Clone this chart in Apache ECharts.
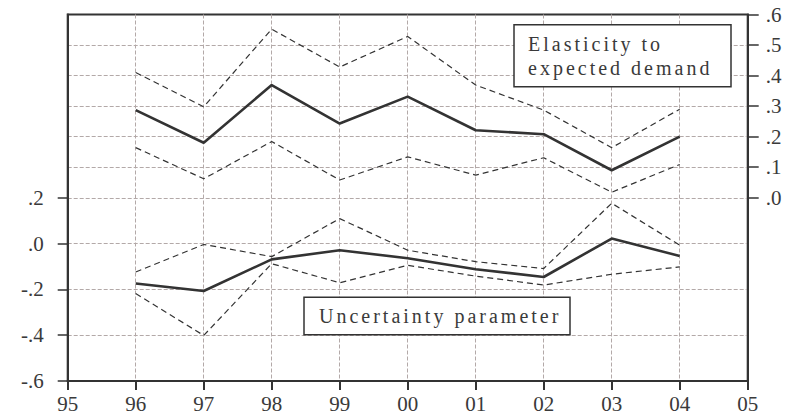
<!DOCTYPE html>
<html>
<head>
<meta charset="utf-8">
<script src="https://cdn.jsdelivr.net/npm/echarts@6/dist/echarts.min.js"></script>
<style>html,body{margin:0;padding:0;background:#fff;}#main{width:787px;height:419px;}</style>
</head>
<body>
<div id="main"></div>
<script>
// ---- data ----
const years = [1996, 1997, 1998, 1999, 2000, 2001, 2002, 2003, 2004];
// Elasticity to expected demand (right axis)
const elasticity      = [0.287, 0.180, 0.369, 0.243, 0.331, 0.221, 0.208, 0.090, 0.200];
const elasticityUpper = [0.410, 0.298, 0.552, 0.428, 0.528, 0.369, 0.287, 0.164, 0.290];
const elasticityLower = [0.164, 0.062, 0.184, 0.058, 0.134, 0.074, 0.131, 0.018, 0.109];
// Uncertainty parameter (left axis)
const uncertainty      = [-0.174, -0.207, -0.069, -0.029, -0.064, -0.112, -0.146, 0.022, -0.054];
const uncertaintyUpper = [-0.124, -0.004, -0.057, 0.109, -0.029, -0.079, -0.109, 0.176, -0.007];
const uncertaintyLower = [-0.218, -0.401, -0.088, -0.171, -0.095, -0.142, -0.181, -0.134, -0.102];
const leftTicks  = [-0.6, -0.4, -0.2, 0, 0.2];
const rightTicks = [0, 0.1, 0.2, 0.3, 0.4, 0.5, 0.6];
const legendLines = ['Elasticity to', 'expected demand', 'Uncertainty parameter'];

const pairs = arr => years.map((y, i) => [y, arr[i]]);
const dark = '#333333';
const gridC = '#b3a9a8';
const T = 'rgba(0,0,0,0)';
const font = 'Liberation Serif';
const fmtY = v => {
  const d = Math.round(Math.abs(v) * 10);
  return (v < -1e-9 ? '-' : '') + '.' + d;
};

const chart = echarts.init(document.getElementById('main'), null, {renderer: 'svg'});

const solid = {type: 'line', symbol: 'none', lineStyle: {color: dark, width: 2.6}, silent: true};
const dashed = {type: 'line', symbol: 'none', lineStyle: {color: dark, width: 1.2, type: [6, 4]}, silent: true};

chart.setOption({
  animation: false,
  backgroundColor: '#fff',
  grid: {left: 67.7, right: 39.3, top: 14.5, bottom: 38, show: true, borderColor: dark, borderWidth: 2, backgroundColor: 'transparent'},
  xAxis: {
    type: 'value', min: 1995, max: 2005, interval: 1,
    axisLine: {show: true, onZero: false, lineStyle: {color: dark, width: 2}},
    axisTick: {show: true, inside: false, length: 9, lineStyle: {color: dark, width: 2}},
    axisLabel: {color: '#3a3a3a', fontFamily: font, fontSize: 21, margin: 12,
      formatter: v => String(Math.round(v) % 100).padStart(2, '0')},
    splitLine: {show: true, lineStyle: {color: gridC, width: 1, type: [4, 2]}}
  },
  yAxis: [
    { // left visible axis
      type: 'value', position: 'left', min: -0.6, max: 1.0, interval: 0.2,
      axisLine: {show: true, onZero: false, lineStyle: {color: dark, width: 2}},
      axisTick: {show: true, length: 10, customValues: leftTicks, lineStyle: {color: dark, width: 1.5}},
      axisLabel: {show: true, customValues: leftTicks, color: '#3a3a3a', fontFamily: font, fontSize: 21, margin: 24, formatter: fmtY},
      splitLine: {show: false}
    },
    { // right visible axis
      type: 'value', position: 'right', min: -0.6, max: 0.6, interval: 0.1,
      axisLine: {show: true, onZero: false, lineStyle: {color: dark, width: 2}},
      axisTick: {show: true, length: 11, customValues: rightTicks, lineStyle: {color: dark, width: 1.5}},
      axisLabel: {show: true, customValues: rightTicks, color: '#3a3a3a', fontFamily: font, fontSize: 21, margin: 18, formatter: fmtY},
      splitLine: {show: false}
    },
    { // grid lines for left scale
      type: 'value', position: 'left', min: -0.6, max: 1.0, interval: 0.2,
      axisLine: {show: false}, axisTick: {show: false}, axisLabel: {show: false},
      splitLine: {show: true, lineStyle: {type: [4, 2], width: 1, color: [T, gridC, gridC, gridC, gridC, T, T, T, T]}}
    },
    { // grid lines for right scale
      type: 'value', position: 'right', min: -0.6, max: 0.6, interval: 0.1,
      axisLine: {show: false}, axisTick: {show: false}, axisLabel: {show: false},
      splitLine: {show: true, lineStyle: {type: [4, 2], width: 1, color: [T, T, T, T, T, T, T, gridC, gridC, gridC, gridC, gridC, T]}}
    }
  ],
  series: [
    Object.assign({}, dashed, {name: 'Elasticity upper', yAxisIndex: 1, data: pairs(elasticityUpper)}),
    Object.assign({}, dashed, {name: 'Elasticity lower', yAxisIndex: 1, data: pairs(elasticityLower)}),
    Object.assign({}, solid,  {name: 'Elasticity to expected demand', yAxisIndex: 1, data: pairs(elasticity)}),
    Object.assign({}, dashed, {name: 'Uncertainty upper', yAxisIndex: 0, data: pairs(uncertaintyUpper)}),
    Object.assign({}, dashed, {name: 'Uncertainty lower', yAxisIndex: 0, data: pairs(uncertaintyLower)}),
    Object.assign({}, solid,  {name: 'Uncertainty parameter', yAxisIndex: 0, data: pairs(uncertainty)})
  ],
  graphic: [
    {type: 'rect', z: 100, shape: {x: 514, y: 24.7, width: 217, height: 62},
      style: {fill: '#fff', stroke: dark, lineWidth: 1.5}},
    {type: 'text', z: 101, style: {x: 528, y: 43.7, text: legendLines[0], fontFamily: font, fontSize: 20, fill: '#3a3a3a', verticalAlign: 'middle', align: 'left'}},
    {type: 'text', z: 101, style: {x: 528, y: 68, text: legendLines[1], fontFamily: font, fontSize: 20, fill: '#3a3a3a', verticalAlign: 'middle', align: 'left'}},
    {type: 'rect', z: 100, shape: {x: 304, y: 297.3, width: 266, height: 37.5},
      style: {fill: '#fff', stroke: dark, lineWidth: 1.5}},
    {type: 'text', z: 101, style: {x: 319, y: 316.3, text: legendLines[2], fontFamily: font, fontSize: 20, fill: '#3a3a3a', verticalAlign: 'middle', align: 'left'}}
  ]
});

function spaceOut() {
  document.querySelectorAll('#main svg text').forEach(t => {
    if (legendLines.indexOf(t.textContent) >= 0) t.setAttribute('letter-spacing', '3');
  });
}
chart.on('finished', spaceOut);
spaceOut();
setTimeout(spaceOut, 50);
</script>
</body>
</html>
